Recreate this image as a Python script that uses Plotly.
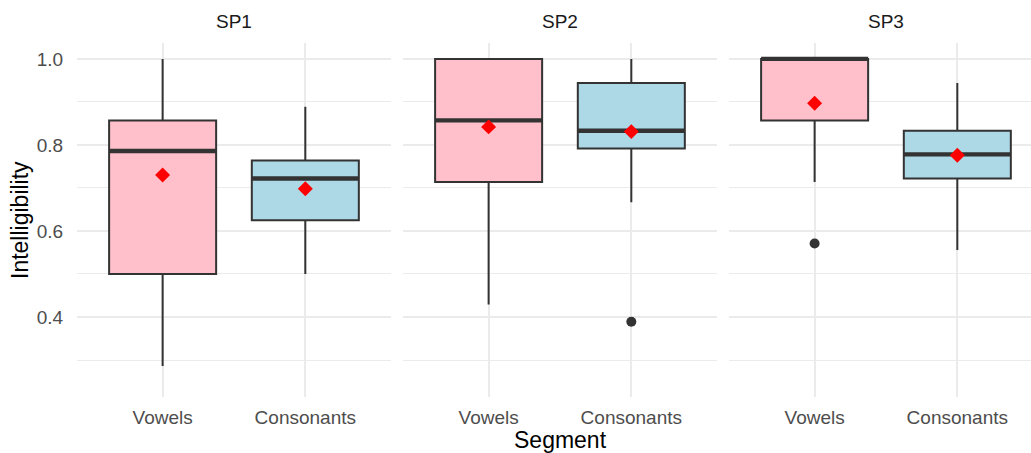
import plotly.graph_objects as go

speakers = ["SP1", "SP2", "SP3"]
segments = ["Vowels", "Consonants"]

# order: SP1 Vowels, SP1 Consonants, SP2 Vowels, SP2 Consonants, SP3 Vowels, SP3 Consonants
lower_whisker = [0.286, 0.500, 0.429, 0.667, 0.714, 0.556]
q1_vals = [0.500, 0.625, 0.714, 0.792, 0.857, 0.722]
median_vals = [0.786, 0.722, 0.857, 0.833, 1.000, 0.778]
q3_vals = [0.857, 0.764, 1.000, 0.944, 1.000, 0.833]
upper_whisker = [1.000, 0.889, 1.000, 1.000, 1.000, 0.944]
mean_vals = [0.730, 0.698, 0.842, 0.831, 0.897, 0.776]

outlier_speaker = ["SP2", "SP3"]
outlier_segment = ["Consonants", "Vowels"]
outlier_vals = [0.389, 0.571]

fills = {"Vowels": "#FFC0CB", "Consonants": "#ADD8E6"}
line_col = "#333333"
box_w = 0.75

W, H = 1031, 453
ml, mr, mt, mb = 77, 0, 43, 56
pw = W - ml - mr
unit = 142.7  # px per category unit

fig = go.Figure()

panel_px = [(0, 314), (326, 640), (652, 954)]

for si, sp in enumerate(speakers):
    xa = "x" if si == 0 else f"x{si+1}"
    ya = "y" if si == 0 else f"y{si+1}"
    for gi, seg in enumerate(segments):
        k = si * 2 + gi
        pos = gi + 1
        fig.add_trace(go.Box(
            x=[pos], q1=[q1_vals[k]], median=[median_vals[k]], q3=[q3_vals[k]],
            lowerfence=[lower_whisker[k]], upperfence=[upper_whisker[k]],
            width=box_w, whiskerwidth=0, fillcolor=fills[seg],
            line=dict(color=line_col, width=2.0), boxpoints=False,
            xaxis=xa, yaxis=ya, showlegend=False, hoverinfo="skip"))
        # thick median
        fig.add_trace(go.Scatter(
            x=[pos - box_w / 2, pos + box_w / 2], y=[median_vals[k]] * 2,
            mode="lines", line=dict(color=line_col, width=4.4),
            xaxis=xa, yaxis=ya, showlegend=False, hoverinfo="skip"))
    # outliers
    ox = [segments.index(g) + 1 for s, g in zip(outlier_speaker, outlier_segment) if s == sp]
    oy = [v for s, v in zip(outlier_speaker, outlier_vals) if s == sp]
    if ox:
        fig.add_trace(go.Scatter(x=ox, y=oy, mode="markers",
                                 marker=dict(color=line_col, size=10, symbol="circle"),
                                 xaxis=xa, yaxis=ya, showlegend=False, hoverinfo="skip"))
    # means
    fig.add_trace(go.Scatter(
        x=[1, 2], y=mean_vals[si * 2:si * 2 + 2], mode="markers",
        marker=dict(color="#FF0000", size=11.5, symbol="diamond", line=dict(width=0)),
        xaxis=xa, yaxis=ya, showlegend=False, hoverinfo="skip"))

yrange = [0.214, 1.037]
font_fam = "Liberation Sans, Arial, Helvetica, sans-serif"
grid_col = "#EBEBEB"
tick_size = 19

layout = dict(
    width=W, height=H,
    margin=dict(l=ml, r=mr, t=mt, b=mb),
    paper_bgcolor="white", plot_bgcolor="white",
    font=dict(family=font_fam, color="#4D4D4D", size=18),
    showlegend=False,
)

for si in range(3):
    a, b = panel_px[si]
    width_px = b - a
    xname = "xaxis" if si == 0 else f"xaxis{si+1}"
    yname = "yaxis" if si == 0 else f"yaxis{si+1}"
    layout[xname] = dict(
        domain=[a / pw, b / pw], range=[0.4, 0.4 + width_px / unit],
        tickmode="array", tickvals=[1, 2], ticktext=segments,
        showgrid=True, gridcolor=grid_col, gridwidth=1.8, zeroline=False,
        showline=False, ticks="outside", ticklen=3, tickcolor="rgba(0,0,0,0)",
        tickfont=dict(size=tick_size, color="#4D4D4D", family=font_fam),
        anchor="y" if si == 0 else f"y{si+1}", fixedrange=True)
    layout[yname] = dict(
        range=yrange, tickmode="array", tickvals=[0.4, 0.6, 0.8, 1.0],
        ticktext=["0.4", "0.6", "0.8", "1.0"],
        showticklabels=(si == 0),
        showgrid=True, gridcolor=grid_col, gridwidth=1.8, zeroline=False,
        showline=False, ticks="outside" if si == 0 else "", ticklen=9,
        tickcolor="rgba(0,0,0,0)",
        tickfont=dict(size=tick_size, color="#4D4D4D", family=font_fam),
        minor=dict(tickmode="array", tickvals=[0.3, 0.5, 0.7, 0.9],
                   showgrid=True, gridcolor=grid_col, gridwidth=1.2, ticks=""),
        anchor="x" if si == 0 else f"x{si+1}",
        matches=None if si == 0 else "y", fixedrange=True)

fig.update_layout(**layout)

ph = H - mt - mb
annotations = []
for si, sp in enumerate(speakers):
    a, b = panel_px[si]
    cx = a + 157  # center of the full (possibly cut) panel
    annotations.append(dict(
        text=sp, xref="paper", yref="paper", x=cx / pw, y=1 + (mt - 22) / ph,
        xanchor="center", yanchor="middle", showarrow=False,
        font=dict(size=tick_size, color="#1A1A1A", family=font_fam)))
annotations.append(dict(
    text="Segment", xref="paper", yref="paper", x=(560 - ml) / pw,
    y=-(440 - (H - mb)) / ph, xanchor="center", yanchor="middle", showarrow=False,
    font=dict(size=23, color="#000000", family=font_fam)))
annotations.append(dict(
    text="Intelligibility", xref="paper", yref="paper", x=-(ml - 20) / pw, y=0.5,
    xanchor="center", yanchor="middle", showarrow=False, textangle=-90,
    font=dict(size=23, color="#000000", family=font_fam)))
fig.update_layout(annotations=annotations)

fig.write_html("out.html")
